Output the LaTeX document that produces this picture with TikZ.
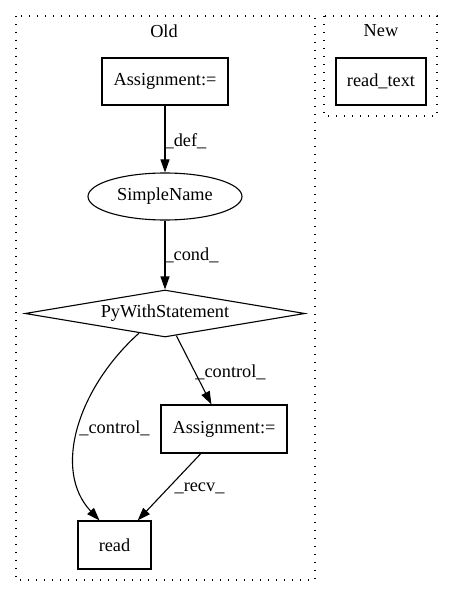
\documentclass[tikz,border=0pt]{standalone}
\usepackage{fontspec}
\setmainfont{Liberation Serif}
\usetikzlibrary{shapes.geometric,arrows.meta}
\begin{document}
\begin{tikzpicture}[x=1pt,y=-1pt,
  every node/.style={font=\fontsize{18.3}{22}\selectfont},
  boxnode/.style={draw,line width=1.1pt,rectangle,inner sep=0pt},
  ellnode/.style={draw,line width=1.1pt,ellipse,inner sep=0pt,minimum width=154pt,minimum height=47pt},
  dianode/.style={draw,line width=1.1pt,diamond,inner sep=0pt,aspect=5.96,minimum width=280pt,minimum height=47pt},
  cluster/.style={draw,line width=1.2pt,dash pattern=on 1.2pt off 6.8pt},
  edge/.style={line width=1.1pt,-{Triangle[length=13pt,width=9pt]}},
  lbl/.style={inner sep=0pt}]
\useasboundingbox (0,0) rectangle (453,596);
\draw[cluster] (16,16) rectangle (315,580);
\draw[cluster] (324,16) rectangle (437,116);
\node[lbl] (oldlbl) at (164,31) {Old};
\node[lbl] (newlbl) at (381,31) {New};
\node[boxnode,minimum width=126pt,minimum height=47pt] (asg1) at (165,81.5) {Assignment:=};
\node[boxnode,minimum width=90pt,minimum height=47pt] (rt) at (381,81.5) {read\_text};
\node[ellnode] (sn) at (165,196.5) {SimpleName};
\node[dianode] (pws) at (165,313.5) {PyWithStatement};
\node[boxnode,minimum width=126pt,minimum height=48pt] (asg2) at (224,429) {Assignment:=};
\node[boxnode,minimum width=73pt,minimum height=48pt] (read) at (114.5,545) {read};
\draw[edge] (asg1) -- (sn);
\draw[edge] (sn) -- (pws);
\draw[edge] (pws) -- (asg2);
\draw[edge] (asg2) -- (read);
\draw[edge] ([xshift=-26pt,yshift=4.4pt]pws.south) .. controls (78,388) and (52,470) .. ([xshift=-15pt]read.north);
\node[lbl] (ldef) at (185.5,141) {\_def\_};
\node[lbl] (lcond) at (191.5,255) {\_cond\_};
\node[lbl] (lctl1) at (230.5,372) {\_control\_};
\node[lbl] (lctl2) at (114.5,428) {\_control\_};
\node[lbl] (lrecv) at (199.5,488) {\_recv\_};
\end{tikzpicture}
\end{document}
